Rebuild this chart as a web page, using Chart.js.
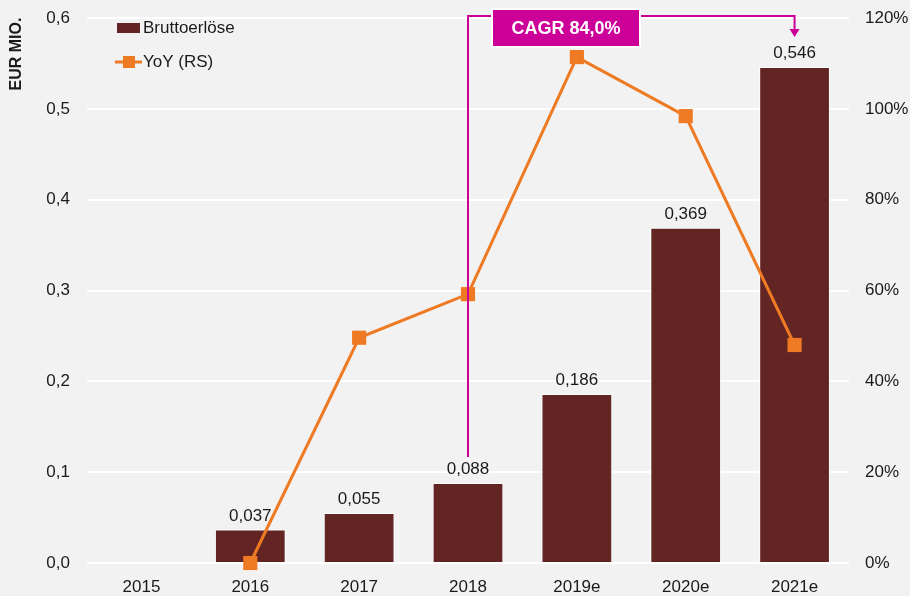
<!DOCTYPE html>
<html>
<head>
<meta charset="utf-8">
<script src="https://cdn.jsdelivr.net/npm/chart.js@4"></script>
<style>
  html, body { margin: 0; padding: 0; background: #f2f2f2; }
  #wrap { width: 910px; height: 596px; position: relative; }
</style>
</head>
<body>
<div id="wrap"><canvas id="chart" width="910" height="596"></canvas></div>
<script>
// chart data
const years = ['2015', '2016', '2017', '2018', '2019e', '2020e', '2021e'];
const revenue = [null, 0.037, 0.055, 0.088, 0.186, 0.369, 0.546];
const yoy = [null, 0, 49.6, 59.2, 111.4, 98.4, 48.0];
const leftTicks = [0, 0.1, 0.2, 0.3, 0.4, 0.5, 0.6];
const rightTicks = [0, 20, 40, 60, 80, 100, 120];
const cagrText = 'CAGR 84,0%';

const barColor = '#632523';
const lineColor = '#EE7A24';
const accent = '#CC0099';
const textColor = '#1a1a1a';
const fontFamily = '"Liberation Sans", Arial, sans-serif';

const fmt = v => v.toFixed(3).replace('.', ',');

// Labels, legend, axis title and CAGR bracket
const extras = {
  id: 'extras',
  beforeDraw(chart) {
    const ctx = chart.ctx;
    ctx.save();
    ctx.fillStyle = '#f2f2f2';
    ctx.fillRect(0, 0, chart.width, chart.height);
    ctx.restore();
  },
  afterDatasetsDraw(chart) {
    const ctx = chart.ctx;
    const x = chart.scales.x;
    const y = chart.scales.y;
    const area = chart.chartArea;
    ctx.save();

    // value labels over bars
    ctx.font = '17px ' + fontFamily;
    ctx.fillStyle = textColor;
    ctx.textAlign = 'center';
    ctx.textBaseline = 'bottom';
    revenue.forEach((v, i) => {
      if (v == null) return;
      ctx.fillText(fmt(v), x.getPixelForValue(i), y.getPixelForValue(v) - 5);
    });

    // axis title
    ctx.save();
    ctx.translate(17, 54);
    ctx.rotate(-Math.PI / 2);
    ctx.font = 'bold 16px ' + fontFamily;
    ctx.textAlign = 'center';
    ctx.textBaseline = 'middle';
    ctx.fillText('EUR MIO.', 0, 0);
    ctx.restore();

    // legend
    ctx.fillStyle = barColor;
    ctx.fillRect(117, 23, 23, 10);
    ctx.strokeStyle = lineColor;
    ctx.lineWidth = 3;
    ctx.beginPath();
    ctx.moveTo(115, 62);
    ctx.lineTo(142, 62);
    ctx.stroke();
    ctx.fillStyle = lineColor;
    ctx.fillRect(123, 56, 12, 12);
    ctx.fillStyle = textColor;
    ctx.font = '17px ' + fontFamily;
    ctx.textAlign = 'left';
    ctx.textBaseline = 'middle';
    ctx.fillText('Bruttoerlöse', 143, 28);
    ctx.fillText('YoY (RS)', 143, 62);

    // CAGR bracket from 2018 to 2021e
    const x0 = x.getPixelForValue(3);
    const x1 = x.getPixelForValue(6);
    const yTop = area.top - 2;
    const y0 = y.getPixelForValue(revenue[3]) - 26;
    const y1 = y.getPixelForValue(revenue[6]) - 30;
    ctx.strokeStyle = accent;
    ctx.lineWidth = 2;
    ctx.beginPath();
    ctx.moveTo(x0, y0);
    ctx.lineTo(x0, yTop);
    ctx.lineTo(x1, yTop);
    ctx.lineTo(x1, y1 - 7);
    ctx.stroke();
    ctx.fillStyle = accent;
    ctx.beginPath();
    ctx.moveTo(x1 - 5, y1 - 8);
    ctx.lineTo(x1 + 5, y1 - 8);
    ctx.lineTo(x1, y1);
    ctx.closePath();
    ctx.fill();

    const bx = x0 + 24, bw = 148, by = 9, bh = 38;
    ctx.fillRect(bx, by, bw, bh);
    ctx.strokeStyle = '#ffffff';
    ctx.lineWidth = 2;
    ctx.strokeRect(bx, by, bw, bh);
    ctx.fillStyle = '#ffffff';
    ctx.font = 'bold 18px ' + fontFamily;
    ctx.textAlign = 'center';
    ctx.textBaseline = 'middle';
    ctx.fillText(cagrText, bx + bw / 2, by + bh / 2 + 1);

    ctx.restore();
  }
};

new Chart(document.getElementById('chart'), {
  data: {
    labels: years,
    datasets: [
      {
        type: 'line',
        label: 'YoY (RS)',
        data: yoy,
        yAxisID: 'y1',
        borderColor: lineColor,
        backgroundColor: lineColor,
        borderWidth: 3,
        pointStyle: 'rect',
        pointRadius: 10,
        pointBorderWidth: 0,
        tension: 0,
        clip: false,
        order: 0
      },
      {
        type: 'bar',
        label: 'Bruttoerlöse',
        data: revenue,
        yAxisID: 'y',
        backgroundColor: barColor,
        borderColor: '#ffffff',
        borderWidth: 1,
        categoryPercentage: 1,
        barPercentage: 0.65,
        order: 1
      }
    ]
  },
  options: {
    responsive: false,
    animation: false,
    layout: { padding: { top: 18, left: 0, right: 0, bottom: 0 } },
    plugins: {
      legend: { display: false },
      tooltip: { enabled: false }
    },
    scales: {
      x: {
        grid: { display: false },
        border: { display: false },
        ticks: { color: textColor, font: { family: fontFamily, size: 17 }, padding: 6 },
        afterFit(scale) { scale.height = 33; }
      },
      y: {
        position: 'left',
        min: 0,
        max: 0.6,
        afterBuildTicks(scale) { scale.ticks = leftTicks.map(v => ({ value: v })); },
        grid: { color: '#ffffff', lineWidth: 2, drawTicks: false },
        border: { display: false },
        ticks: {
          color: textColor,
          font: { family: fontFamily, size: 17 },
          padding: 17,
          callback: v => v.toFixed(1).replace('.', ',')
        },
        afterFit(scale) { scale.width = 87; scale.paddingTop = 0; scale.paddingBottom = 0; }
      },
      y1: {
        position: 'right',
        min: 0,
        max: 120,
        afterBuildTicks(scale) { scale.ticks = rightTicks.map(v => ({ value: v })); },
        grid: { display: false, drawTicks: false },
        border: { display: false },
        ticks: {
          color: textColor,
          font: { family: fontFamily, size: 17 },
          padding: 16,
          callback: v => v + '%'
        },
        afterFit(scale) { scale.width = 61; scale.paddingTop = 0; scale.paddingBottom = 0; }
      }
    }
  },
  plugins: [extras]
});
</script>
</body>
</html>
